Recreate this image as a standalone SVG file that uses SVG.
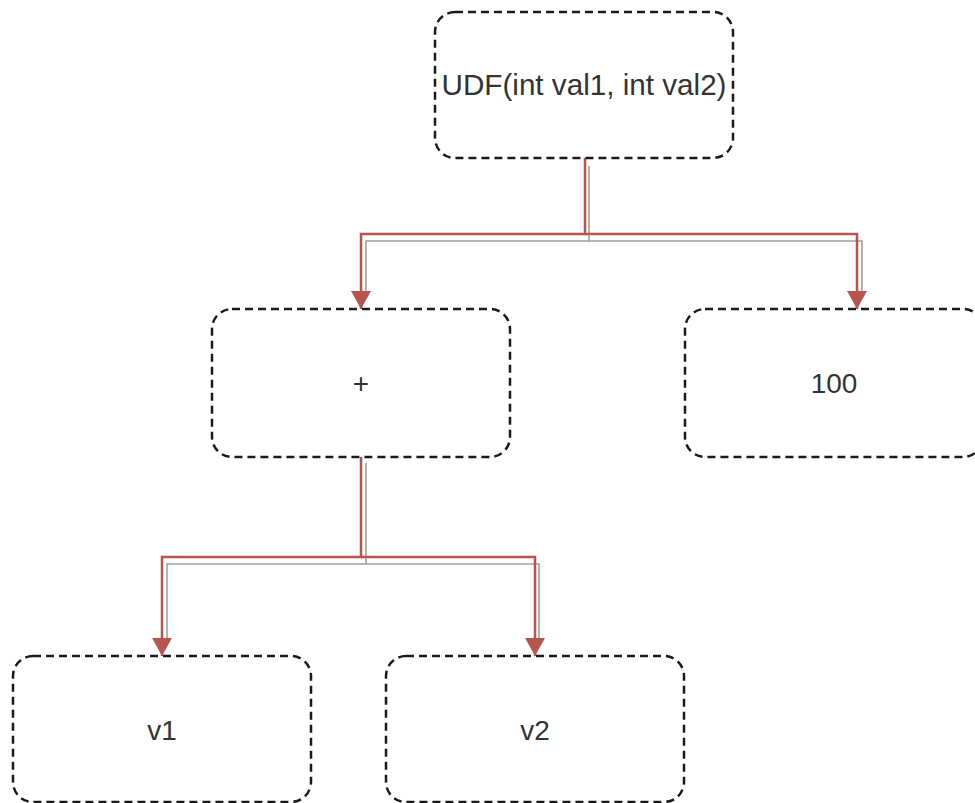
<svg xmlns="http://www.w3.org/2000/svg" width="975" height="803" viewBox="0 0 975 803">
<style>
.node rect{fill:#fff;stroke:#1a1a1a;stroke-width:2.5;stroke-dasharray:8 5}
.node text{font-family:"Liberation Sans",Arial,sans-serif;font-size:28px;fill:#333;text-anchor:middle}
.red{fill:none;stroke:#b85450;stroke-width:2.5}
.shadow{fill:none;stroke:#a0a0a0;stroke-width:1.6}
</style>
<defs>
<marker id="arr" markerUnits="userSpaceOnUse" markerWidth="20" markerHeight="20" viewBox="0 0 20 20" refX="18" refY="10" orient="auto">
<path d="M0,0 L18,10 L0,20 Z" fill="#b85450"/>
</marker>
</defs>
<rect width="975" height="803" fill="#fff"/>
<g id="connectors">
<path class="shadow" d="M589,166 V241 H366 V296"/>
<path class="shadow" d="M589,241 H862 V296"/>
<path class="shadow" d="M366,463 V564 H167 V640"/>
<path class="shadow" d="M366,564 H539 V640"/>
<path class="red" d="M585,158 V234 H361 V309" marker-end="url(#arr)"/>
<path class="red" d="M585,234 H857 V309" marker-end="url(#arr)"/>
<path class="red" d="M361,457 V557 H162 V656" marker-end="url(#arr)"/>
<path class="red" d="M361,557 H535 V656" marker-end="url(#arr)"/>
</g>
<g id="udf" class="node">
<rect x="435" y="12" width="298" height="146" rx="20"/>
<text x="584" y="95" style="font-size:29.5px" textLength="285" lengthAdjust="spacingAndGlyphs">UDF(int val1, int val2)</text>
</g>
<g id="plus" class="node">
<rect x="212" y="309" width="298" height="148" rx="20"/>
<text x="361" y="393">+</text>
</g>
<g id="n100" class="node">
<rect x="685" y="309" width="298" height="148" rx="20"/>
<text x="834" y="393">100</text>
</g>
<g id="v1" class="node">
<rect x="13" y="656" width="298" height="146" rx="20"/>
<text x="162" y="740">v1</text>
</g>
<g id="v2" class="node">
<rect x="386" y="656" width="298" height="146" rx="20"/>
<text x="535" y="740">v2</text>
</g>
</svg>
